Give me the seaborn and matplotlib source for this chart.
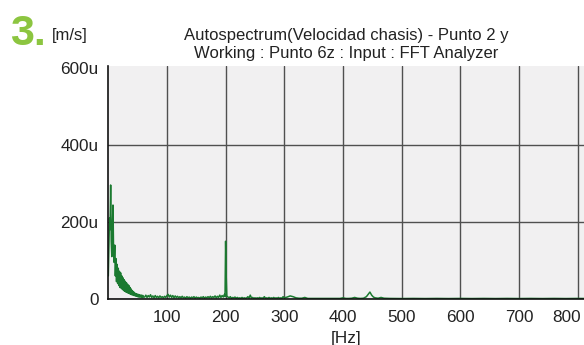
import numpy as np
import pandas as pd
import matplotlib
matplotlib.use("Agg")
import matplotlib.pyplot as plt
import matplotlib.transforms as mtrans
import seaborn as sns

# ---- data (amplitude in micro m/s) ----
freq_a = list(range(0, 61))
amp_a = [60, 140, 210, 180, 296, 150, 110, 190, 244, 120,
         95, 140, 60, 105, 45, 90, 40, 80, 35, 72,
         30, 68, 28, 60, 25, 55, 22, 50, 20, 46,
         18, 42, 17, 38, 15, 35, 14, 30, 12, 26,
         11, 22, 10, 19, 9, 16, 8, 14, 7, 13,
         6, 12, 5, 11, 5, 10, 5, 10, 4, 9, 5]

freq_b = list(range(62, 199, 2))
amp_b = [5, 10, 4, 9, 5, 11, 4, 8, 3, 9, 4, 7, 3, 8, 4, 6, 3, 7, 4, 9,
         12, 5, 10, 4, 9, 3, 8, 4, 7, 3, 6, 3, 7, 3, 5, 2, 6, 3, 5, 2,
         5, 3, 6, 2, 5, 3, 4, 2, 5, 3, 6, 2, 5, 3, 6, 3, 7, 3, 6, 4,
         8, 3, 7, 4, 10, 4, 9, 5, 12]

freq_c = [199, 200, 201, 202]
amp_c = [6, 150, 60, 8]

freq_d = list(range(204, 301, 2))
amp_d = [5, 3, 6, 2, 4, 3, 5, 2, 4, 2, 3, 2, 4, 2, 3, 2, 3, 6, 2, 10,
         3, 4, 2, 3, 2, 3, 2, 4, 2, 3, 2, 6, 2, 3, 2, 4, 2, 3, 2, 4,
         2, 3, 2, 4, 2, 3, 2, 6, 3]

freq_e = [305, 310, 315, 320, 325, 330, 335, 340, 345, 350, 355, 360, 365,
          370, 375, 380, 385, 390, 395, 400, 405, 410, 415, 420, 425, 430,
          435, 440, 443, 446, 449, 452, 455, 460, 465, 470]
amp_e = [5, 8, 6, 3, 2, 2, 4, 1.5, 1.5, 1.5, 1.5, 1.5, 1.5,
         1.5, 1.5, 1.5, 1.5, 1.5, 1.5, 3, 1.5, 1.5, 2, 4, 2, 1.5,
         2, 6, 12, 18, 10, 5, 3, 2, 4, 2]

freq_f = list(range(480, 821, 20))
amp_f = [1.5, 1.2, 1.5, 1.2, 1.5, 1.2, 1.5, 1.2, 1.5, 1.2, 1.5, 1.2, 1.5,
         1.2, 1.5, 1.2, 1.5, 1.2]

x_ticks = [100, 200, 300, 400, 500, 600, 700, 800]
y_ticks = [0, 200, 400, 600]
y_labels = ["0", "200u", "400u", "600u"]

df = pd.DataFrame({
    "freq": freq_a + freq_b + freq_c + freq_d + freq_e + freq_f,
    "amp": amp_a + amp_b + amp_c + amp_d + amp_e + amp_f,
})

sns.set_style("white", {"axes.facecolor": "#f1f0f1"})
plt.rcParams["font.family"] = ["Liberation Sans", "DejaVu Sans"]

fig = plt.figure(figsize=(5.84, 3.45), dpi=100)
ax = fig.add_axes([108.3 / 584, 1 - 299 / 345, 1 - 108.3 / 584, (299 - 66) / 345])

sns.lineplot(data=df, x="freq", y="amp", ax=ax, color="#1b7a30",
             linewidth=1.1, estimator=None, sort=True)

ax.set_xlim(0, 811)
ax.set_ylim(0, 605)
ax.set_xticks(x_ticks)
ax.set_xticklabels([str(v) for v in x_ticks])
ax.set_yticks(y_ticks)
ax.set_yticklabels(y_labels)

ax.grid(True, color="#505050", linewidth=1.0)
ax.set_axisbelow(True)
# no horizontal grid line at the very top (600u)
ax.get_ygridlines()[-1].set_visible(False)
for s in ["top", "right"]:
    ax.spines[s].set_visible(False)
ax.spines["left"].set_color("#111111")
ax.spines["left"].set_linewidth(1.2)
ax.spines["bottom"].set_color("#111111")
ax.spines["bottom"].set_linewidth(1.2)

ax.tick_params(axis="x", direction="out", length=5, width=1, color="#333333",
               labelsize=12.3, pad=3, labelcolor="#222222")
ax.tick_params(axis="y", direction="out", length=6.5, width=1, color="#333333",
               labelsize=12.3, pad=0.5, labelcolor="#222222")

# last x label pulled in so it stays inside the picture
last = ax.get_xticklabels()[-1]
last.set_horizontalalignment("right")
last.set_transform(last.get_transform() + mtrans.ScaledTranslation(3 / 100, 0, fig.dpi_scale_trans))

ax.set_xlabel("[Hz]", fontsize=12.3, labelpad=4, color="#222222")
ax.set_ylabel("")

ax.set_title("Autospectrum(Velocidad chasis) - Punto 2 y\nWorking : Punto 6z : Input : FFT Analyzer",
             fontsize=12, pad=6, linespacing=1.2, color="#222222")

fig.text(10 / 584, 1 - 45 / 345, "3.", fontsize=31, fontweight="bold",
         color="#8cc540", ha="left", va="baseline")
fig.text(52 / 584, 1 - 40 / 345, "[m/s]", fontsize=12, color="#222222",
         ha="left", va="baseline")

fig.savefig("out.png", dpi=100)
